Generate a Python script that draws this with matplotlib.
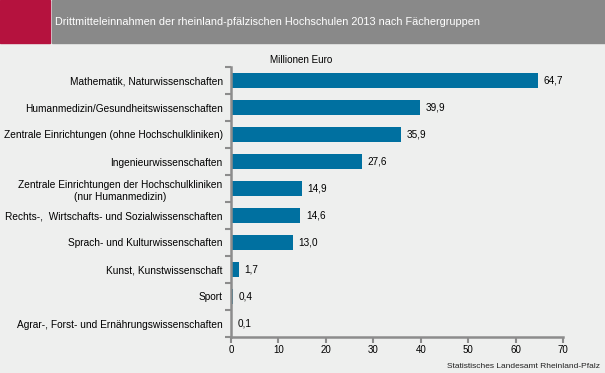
#!/usr/bin/env python
import matplotlib
matplotlib.use("Agg")
import matplotlib.pyplot as plt
from matplotlib.patches import Rectangle

# data
categories = [
    "Mathematik, Naturwissenschaften",
    "Humanmedizin/Gesundheitswissenschaften",
    "Zentrale Einrichtungen (ohne Hochschulkliniken)",
    "Ingenieurwissenschaften",
    "Zentrale Einrichtungen der Hochschulkliniken\n(nur Humanmedizin)",
    "Rechts-,  Wirtschafts- und Sozialwissenschaften",
    "Sprach- und Kulturwissenschaften",
    "Kunst, Kunstwissenschaft",
    "Sport",
    "Agrar-, Forst- und Ernährungswissenschaften",
]
values = [64.7, 39.9, 35.9, 27.6, 14.9, 14.6, 13.0, 1.7, 0.4, 0.1]
x_ticks = [0, 10, 20, 30, 40, 50, 60, 70]

title = "Drittmitteleinnahmen der rheinland-pfälzischen Hochschulen 2013 nach Fächergruppen"
unit = "Millionen Euro"
source = "Statistisches Landesamt Rheinland-Pfalz"

bg = "#eeefee"
bar_col = "#0070a0"
axis_col = "#8c8c8c"

plt.rcParams["font.family"] = ["Liberation Sans", "DejaVu Sans"]

fig = plt.figure(figsize=(6.05, 3.73), dpi=100, facecolor=bg)

# header band
W, H = 605, 373
fig.patches.append(Rectangle((0, 1 - 43 / H), 50 / W, 43 / H, transform=fig.transFigure,
                             color="#b5123e", zorder=0))
fig.patches.append(Rectangle((52 / W, 1 - 43 / H), 1 - 52 / W, 43 / H, transform=fig.transFigure,
                             color="#898989", zorder=0))
fig.text(55 / W, 1 - 22 / H, title, color="white", fontsize=7.8, va="center", ha="left")
fig.text(301 / W, 1 - 60 / H, unit, color="black", fontsize=7.1, va="center", ha="center")
fig.text(600 / W, 1 - 366 / H, source, color="#222222", fontsize=6.0, va="center", ha="right")

ax = fig.add_axes([231 / W, 1 - 337 / H, (563 - 231) / W, (337 - 67) / H])
ax.set_facecolor(bg)

n = len(categories)
ypos = list(range(n))
ax.barh(ypos, values, height=0.57, color=bar_col, zorder=2)
for y, v in zip(ypos, values):
    ax.text(v + 1.2, y, f"{v:.1f}".replace(".", ","), va="center", ha="left", fontsize=7.2)

ax.set_ylim(n - 0.5, -0.5)
ax.set_xlim(0, 70)
ax.set_xticks(x_ticks)
ax.set_xticklabels([str(t) for t in x_ticks], fontsize=7.0)

# labels on bars, ticks between categories
ax.set_yticks(ypos)
ax.set_yticklabels(categories, fontsize=7.3, linespacing=1.3, ha="right", multialignment="center")
ax.set_yticks([i - 0.5 for i in range(n + 1)], minor=True)
ax.tick_params(axis="y", which="major", length=0, pad=6)
ax.tick_params(axis="y", which="minor", length=4, width=1.5, color=axis_col)
ax.tick_params(axis="x", length=4, width=1.5, color=axis_col, pad=2)

for s in ["top", "right"]:
    ax.spines[s].set_visible(False)
for s in ["left", "bottom"]:
    ax.spines[s].set_color(axis_col)
    ax.spines[s].set_linewidth(1.8)

fig.savefig("out.png", dpi=100, facecolor=bg)
